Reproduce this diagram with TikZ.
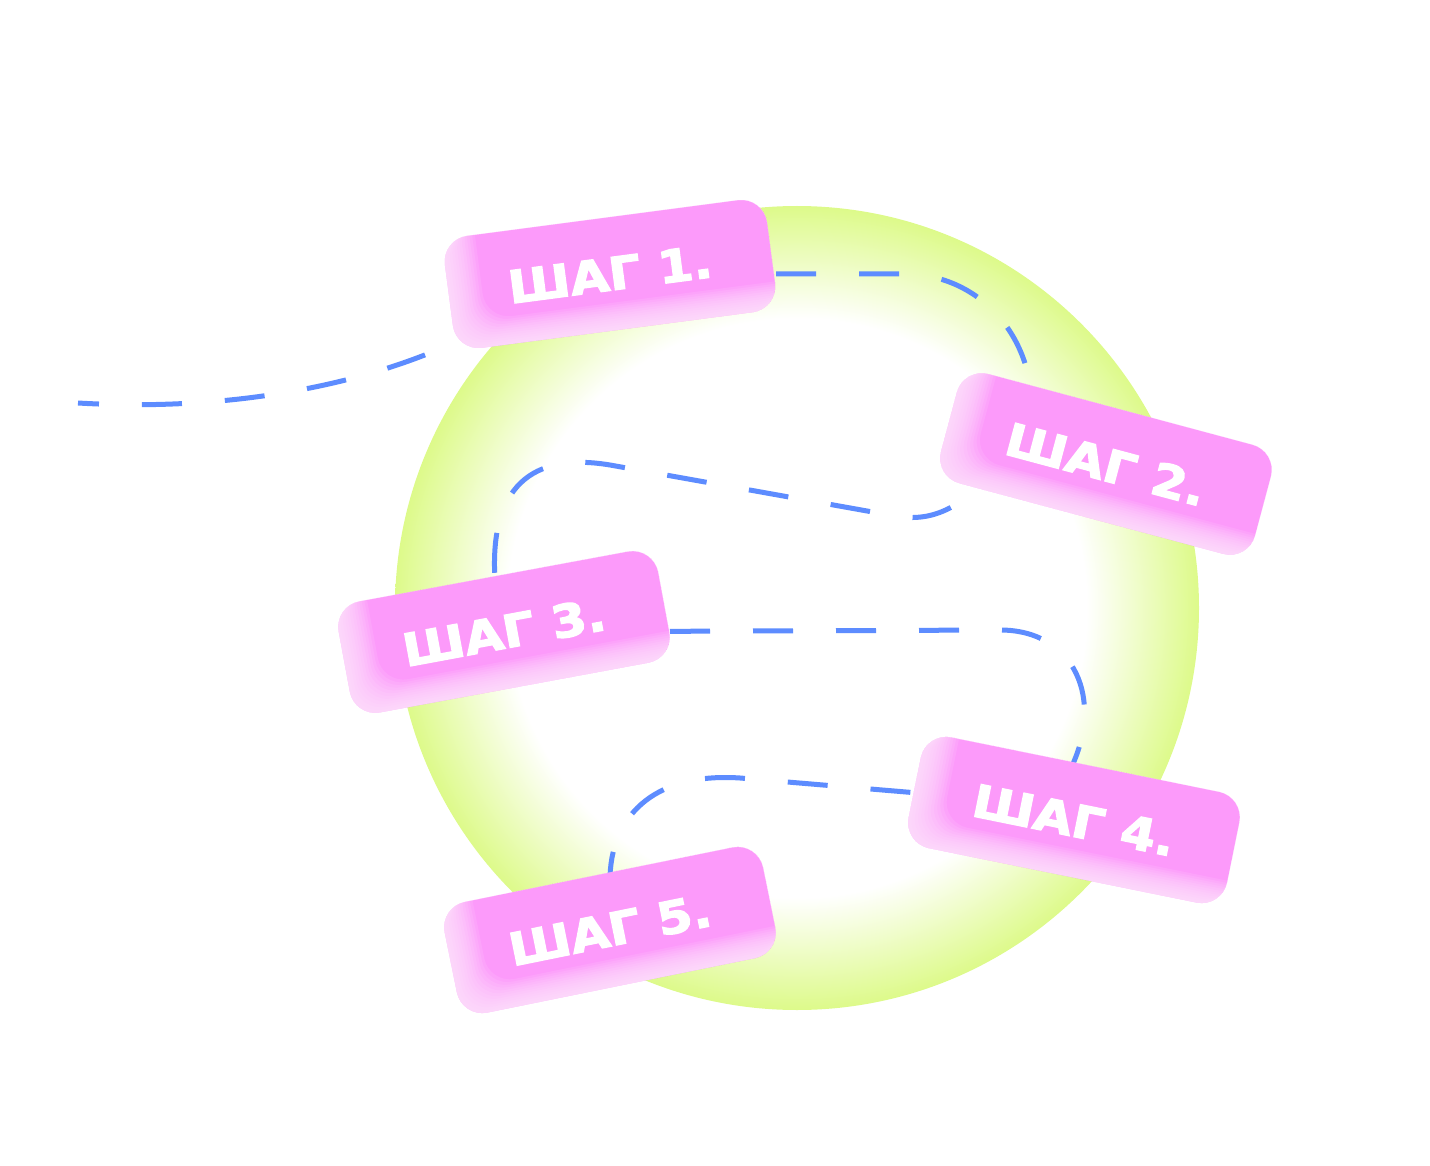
\documentclass[tikz,border=0pt]{standalone}
\usepackage{fontspec}
\newfontfamily\stepfont{DejaVu Sans}[FakeStretch=1.12, FakeBold=3]
\definecolor{cardpink}{RGB}{252,154,250}
\definecolor{cardlight}{RGB}{255,234,253}
\definecolor{ringlime}{RGB}{221,250,138}
\definecolor{routeblue}{RGB}{93,140,255}
\pgfdeclarelayer{back}
\pgfdeclarelayer{mid}
\pgfsetlayers{back,mid,main}
\pgfdeclareradialshading{ringshade}{\pgfpoint{0bp}{0bp}}{color(0bp)=(white); color(18bp)=(white); color(25bp)=(ringlime); color(50bp)=(ringlime)}
\tikzset{
  route/.style={draw=routeblue, line width=5pt, dash pattern=on 40pt off 43pt},
  steptext/.style={text=white, inner sep=0pt, minimum width=325pt, minimum height=113pt,
    font={\stepfont\bfseries\fontsize{45pt}{50pt}\selectfont}},
  cardscope/.style={rounded corners=26pt},
  glowfill/.style={fill=cardlight, fill opacity=.12, even odd rule}
}
\newcommand\cardpath[2]{(-162.5+#1,-56.5+#2) -- (162.5+#1,-56.5+#2) -- (162.5+#1,56.5+#2) -- (-162.5+#1,56.5+#2) -- cycle}
\newcommand\stepcard[4]{%
  \begin{scope}[shift={#2}, rotate=#3, cardscope]
    \fill[cardpink] \cardpath{0}{0};
    \begin{scope}
      \clip \cardpath{0}{0};
      \foreach \k in {1,...,12}{\path[glowfill] \cardpath{0}{0} \cardpath{\k*2.8}{-\k*2.3};}
    \end{scope}
    \node[steptext, transform shape] (#1) at (0,0) {#4};
  \end{scope}}
\begin{document}
\begin{tikzpicture}[x=1pt,y=-1pt]
\useasboundingbox (0,0) rectangle (1430,1166);
\begin{pgfonlayer}{back}
  \shade[shading=ringshade] (797,608) circle[radius=402pt];
\end{pgfonlayer}
\stepcard{s1}{(610,274)}{7.5}{ШАГ 1.}
\stepcard{s2}{(1106,464)}{-15}{ШАГ 2.}
\stepcard{s3}{(504,632)}{10.5}{ШАГ 3.}
\stepcard{s4}{(1074,820)}{-11.5}{ШАГ 4.}
\stepcard{s5}{(610,930)}{11.5}{ШАГ 5.}
\coordinate (start) at (78,403);
\begin{pgfonlayer}{mid}
  \draw[route, dash phase=19pt] (start) .. controls (230,412) and (370,385) .. (470,335) -- (s1.center);
  \draw[route] (s1.center) -- (905,274) .. controls (975,274) and (1030,330) .. (1032,405) -- (s2.center);
  \draw[route] (s2.center) -- (990,478) .. controls (960,505) and (935,523) .. (895,516) -- (610,465) .. controls (520,450) and (490,500) .. (495,580) -- (s3.center);
  \draw[route] (s3.center) -- (1000,630) .. controls (1075,630) and (1105,700) .. (1070,770) -- (s4.center);
  \draw[route] (s4.center) -- (918,793) -- (740,778) .. controls (650,772) and (610,820) .. (610,880) -- (s5.center);
\end{pgfonlayer}
\end{tikzpicture}
\end{document}
